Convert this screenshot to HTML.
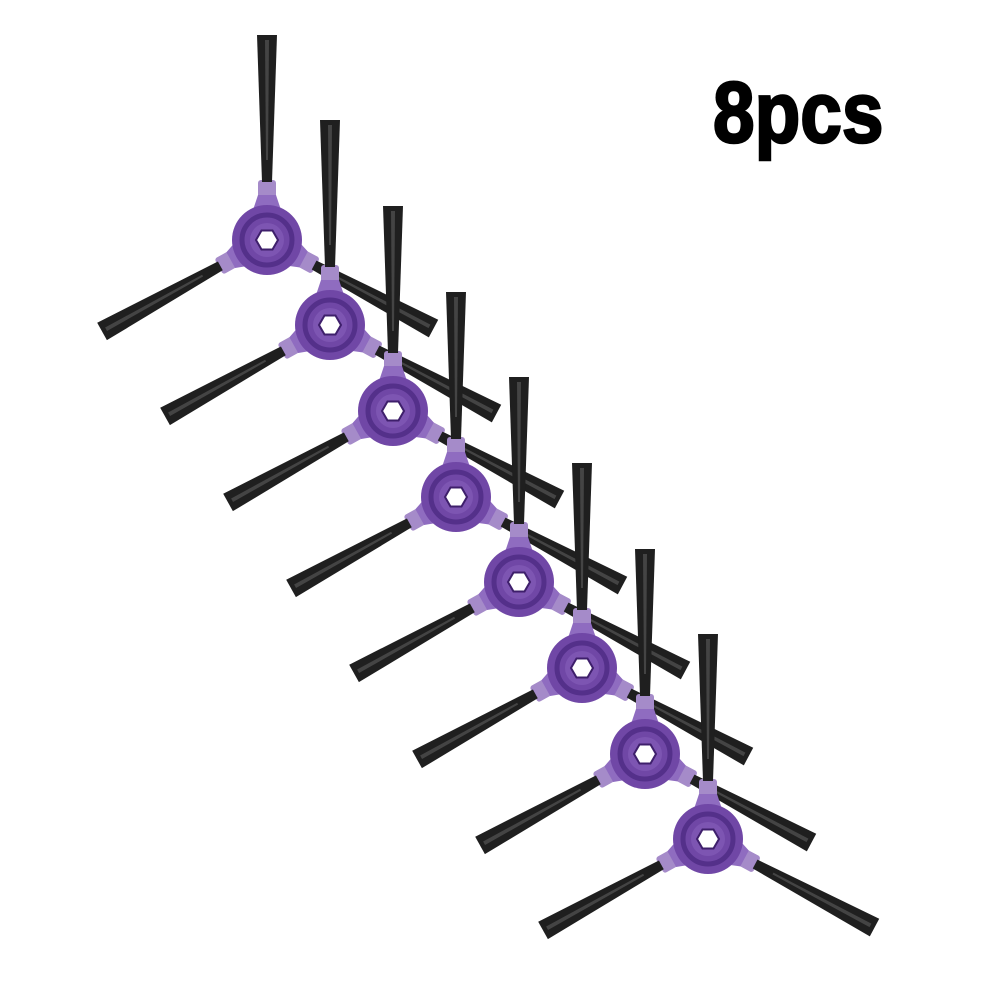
<!DOCTYPE html>
<html><head><style>
body{margin:0;background:#fff;width:1000px;height:1000px;overflow:hidden}
</style></head><body>
<svg width="1000" height="1000" viewBox="0 0 1000 1000" xmlns="http://www.w3.org/2000/svg">
<defs>
<g id="arm">
<rect x="-9" y="-60" width="18" height="20" fill="#a58bc9" rx="3"/>
<polygon points="-5,-58 5,-58 10,-205 -10,-205" fill="#1f1f1f"/>
<polygon points="-2,-200 2,-200 1,-80 -1,-80" fill="#444"/>
<path d="M-9,-45 L9,-45 L14,-30 L-14,-30 Z" fill="#8f6cc0"/>
</g>
<g id="brush">
<use href="#arm"/>
<use href="#arm" transform="rotate(-119) scale(1,0.92)"/>
<use href="#arm" transform="rotate(118) scale(1,0.92)"/>
<circle r="35" fill="#7047a6"/>
<circle r="25" fill="none" stroke="#54308a" stroke-width="5"/>
<circle r="17" fill="#7d55b2"/>
<polygon points="11,0 5.5,9.5 -5.5,9.5 -11,0 -5.5,-9.5 5.5,-9.5" fill="#fff" stroke="#3e1f6b" stroke-width="2"/>
</g>
</defs>
<use href="#brush" transform="translate(267,240)"/>
<use href="#brush" transform="translate(330,325)"/>
<use href="#brush" transform="translate(393,411)"/>
<use href="#brush" transform="translate(456,497)"/>
<use href="#brush" transform="translate(519,582)"/>
<use href="#brush" transform="translate(582,668)"/>
<use href="#brush" transform="translate(645,754)"/>
<use href="#brush" transform="translate(708,839)"/>
<text x="0" y="0" transform="translate(713,142) scale(0.87,1)" font-family="Liberation Sans, sans-serif" font-weight="bold" font-size="86" fill="#000" stroke="#000" stroke-width="2.5">8pcs</text>
</svg>
</body></html>
